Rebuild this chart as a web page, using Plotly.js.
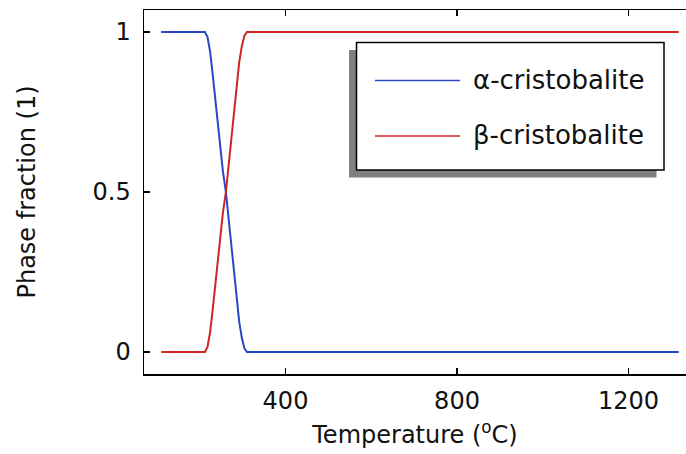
<!DOCTYPE html>
<html>
<head>
<meta charset="utf-8">
<script src="https://cdn.plot.ly/plotly-3.0.1.min.js"></script>
<style>html,body{margin:0;padding:0;background:#fff}#chart{width:686px;height:454px}</style>
</head>
<body>
<div id="chart"></div>
<script>
// Data
var temperature = [110, 212, 218, 224, 230, 236, 242, 248, 254, 261, 268, 274, 280, 286, 292, 298, 304, 310, 1317];
var alphaFraction = [1, 1, 0.985, 0.94, 0.87, 0.79, 0.71, 0.63, 0.565, 0.5, 0.41, 0.32, 0.24, 0.16, 0.095, 0.045, 0.012, 0, 0];
var betaFraction  = [0, 0, 0.015, 0.06, 0.13, 0.21, 0.29, 0.37, 0.435, 0.5, 0.59, 0.68, 0.76, 0.84, 0.905, 0.955, 0.988, 1, 1];
var seriesNames = ['\u03B1-cristobalite', '\u03B2-cristobalite'];
var seriesColors = ['#2846c8', '#d02424'];
var xTickVals = [400, 800, 1200];
var yTickVals = [0, 0.5, 1];
var yTickText = ['0', '0.5', '1'];

var font = 'DejaVu Sans, sans-serif';
var traces = [
  {x: temperature, y: alphaFraction, name: seriesNames[0], mode: 'lines',
   line: {color: seriesColors[0], width: 2}},
  {x: temperature, y: betaFraction, name: seriesNames[1], mode: 'lines',
   line: {color: seriesColors[1], width: 2}}
];

// legend geometry (paper coords)
var W = 542, H = 364, L = 144, T = 10;
function px(v){return (v - L)/W;}
function py(v){return (T + H - v)/H;}
var bx0 = 356.5, bx1 = 664, by0 = 42.5, by1 = 170;
var sh = 7.5;
var shapes = [
  {type:'rect', xref:'paper', yref:'paper', x0:px(bx0-sh), x1:px(bx1-sh), y0:py(by1+sh), y1:py(by0+sh),
   fillcolor:'#808080', line:{width:0}, layer:'above'},
  {type:'rect', xref:'paper', yref:'paper', x0:px(bx0), x1:px(bx1), y0:py(by1), y1:py(by0),
   fillcolor:'#ffffff', line:{color:'#000', width:1.5}, layer:'above'},
  {type:'line', xref:'paper', yref:'paper', x0:px(375), x1:px(460), y0:py(80.5), y1:py(80.5),
   line:{color:seriesColors[0], width:1.5}, layer:'above'},
  {type:'line', xref:'paper', yref:'paper', x0:px(375), x1:px(460), y0:py(136), y1:py(136),
   line:{color:seriesColors[1], width:1.5}, layer:'above'}
];
var annotations = [
  {xref:'paper', yref:'paper', x:px(471), y:py(80), xanchor:'left', yanchor:'middle', showarrow:false,
   text: seriesNames[0], font:{family:font, size:26, color:'#111'}},
  {xref:'paper', yref:'paper', x:px(471), y:py(135), xanchor:'left', yanchor:'middle', showarrow:false,
   text: seriesNames[1], font:{family:font, size:26, color:'#111'}}
];

var layout = {
  width: 686, height: 454,
  margin: {l: 144, r: 0, t: 10, b: 80},
  paper_bgcolor: '#fff', plot_bgcolor: '#fff',
  showlegend: false,
  font: {family: font, size: 24, color: '#111'},
  xaxis: {
    range: [70, 1334], tickvals: xTickVals, ticks: 'inside', ticklen: 6, tickwidth: 1.5, tickcolor: '#000',
    showline: true, linecolor: '#000', linewidth: 1.5, mirror: 'allticks', showgrid: false, zeroline: false,
    tickfont: {family: font, size: 24}, ticklabelstandoff: 5,
    title: {text: 'Temperature (<sup>o</sup>C)', font: {family: font, size: 24}, standoff: 12}
  },
  yaxis: {
    range: [-0.06875, 1.06875], tickvals: yTickVals, ticktext: yTickText, ticks: 'inside', ticklen: 6, tickwidth: 1.5, tickcolor: '#000',
    showline: true, linecolor: '#000', linewidth: 1.5, mirror: false, showgrid: false, zeroline: false,
    tickfont: {family: font, size: 24}, ticklabelstandoff: 7,
    title: {text: 'Phase fraction (1)', font: {family: font, size: 24}, standoff: 50}
  },
  shapes: shapes,
  annotations: annotations
};
Plotly.newPlot('chart', traces, layout, {staticPlot: true, displayModeBar: false});
</script>
</body>
</html>
